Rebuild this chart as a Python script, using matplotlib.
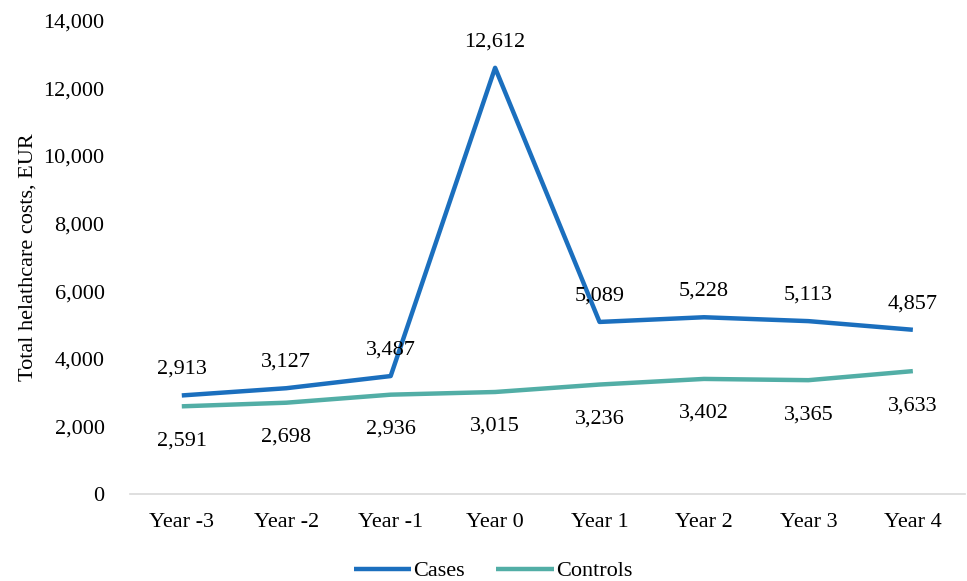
import matplotlib.pyplot as plt
from matplotlib.ticker import FuncFormatter

plt.rcParams['font.family'] = ['Liberation Serif', 'DejaVu Serif']

# data
years = ['Year -3', 'Year -2', 'Year -1', 'Year 0', 'Year 1', 'Year 2', 'Year 3', 'Year 4']
cases = [2913, 3127, 3487, 12612, 5089, 5228, 5113, 4857]
controls = [2591, 2698, 2936, 3015, 3236, 3402, 3365, 3633]

fig = plt.figure(figsize=(9.67, 5.81), dpi=100)
ax = fig.add_axes([0.134, 0.150, 0.864, 0.814])

xs = range(len(years))
ax.plot(xs, cases, color='#1b6fbe', lw=3.2, label='Cases', solid_capstyle='butt')
ax.plot(xs, controls, color='#52aea6', lw=3.2, label='Controls', solid_capstyle='butt')

# value labels: cases above, controls below
for x, v in zip(xs, cases):
    ax.annotate(f'{v:,}', (x, v), xytext=(0, 12), textcoords='offset points',
                ha='center', va='bottom', fontsize=16)
for x, v in zip(xs, controls):
    ax.annotate(f'{v:,}', (x, v), xytext=(0, -18), textcoords='offset points',
                ha='center', va='top', fontsize=16)

ax.set_xlim(-0.5, len(years) - 0.5)
ax.set_ylim(0, 14000)
ax.set_yticks(range(0, 14001, 2000))
ax.yaxis.set_major_formatter(FuncFormatter(lambda v, p: f'{int(v):,}'))
ax.set_xticks(list(xs))
ax.set_xticklabels(years)
ax.tick_params(axis='both', length=0, labelsize=16)
ax.tick_params(axis='x', pad=14)
ax.tick_params(axis='y', pad=18)

for s in ['top', 'right', 'left']:
    ax.spines[s].set_visible(False)
ax.spines['bottom'].set_color('#d9d9d9')
ax.spines['bottom'].set_linewidth(1.2)

ax.set_ylabel('Total helathcare costs, EUR', fontsize=16, labelpad=4)

fig.legend(loc='lower center', bbox_to_anchor=(0.51, -0.035), ncol=2, frameon=False,
           fontsize=16, handlelength=2.6, handletextpad=0.1, columnspacing=1.4)

fig.savefig('out.png', dpi=100)
